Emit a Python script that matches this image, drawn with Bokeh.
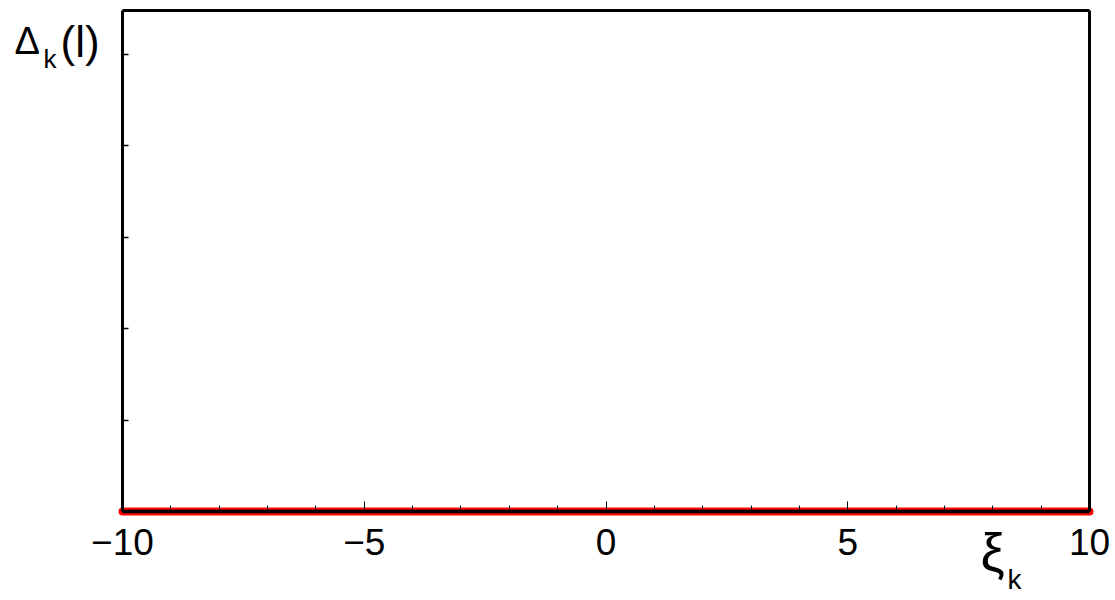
from bokeh.plotting import figure
from bokeh.models import Range1d, LinearAxis, FixedTicker, Label
from bokeh.embed import file_html
from bokeh.resources import INLINE

# ---- data ----
xi_k = [-10, -5, 0, 5, 10]
delta_k = [0, 0, 0, 0, 0]

x_ticks = [-10, -5, 0, 5, 10]
x_tick_labels = ["\u221210", "\u22125", "0", "5", "10"]
x_minor_ticks = [-9, -8, -7, -6, -4, -3, -2, -1, 1, 2, 3, 4, 6, 7, 8, 9]
y_ticks = [1, 2, 3, 4, 5]

X_MIN, X_MAX = -10, 10
Y_MIN, Y_MAX = 0, 5.48

FONT = "Liberation Sans"

# page-pixel geometry of the plot box
W, H = 1115, 600
PX_LEFT, PX_RIGHT = 122, 1089     # x = -10 .. 10
PY_ZERO, PY_PER_UNIT = 511, 91.4  # y = 0 and pixels per y unit
PX_PER_UNIT = (PX_RIGHT - PX_LEFT) / (X_MAX - X_MIN)

x0 = X_MIN - PX_LEFT / PX_PER_UNIT
x1 = X_MAX + (W - PX_RIGHT) / PX_PER_UNIT
y0 = -(H - PY_ZERO) / PY_PER_UNIT
y1 = PY_ZERO / PY_PER_UNIT

p = figure(
    x_range=Range1d(x0, x1),
    y_range=Range1d(y0, y1),
    frame_width=W, frame_height=H,
    min_border=0,
    output_backend="svg", toolbar_location=None,
    x_axis_location=None, y_axis_location=None,
)
p.grid.visible = False
p.outline_line_color = None
p.background_fill_color = "white"
p.border_fill_color = "white"

# red data line
p.line(xi_k, delta_k, line_color="#ff0000", line_width=8, line_cap="round")

def base_axis(ax, lw):
    ax.axis_line_color = "black"
    ax.axis_line_width = lw
    ax.major_tick_line_color = "black"
    ax.minor_tick_line_color = "black"
    ax.major_tick_out = 0
    ax.minor_tick_out = 0
    ax.axis_label = None
    return ax

# bottom axis at y = 0
bx = LinearAxis(fixed_location=0, bounds=(X_MIN, X_MAX),
                ticker=FixedTicker(ticks=x_ticks, minor_ticks=x_minor_ticks))
base_axis(bx, 3.5)
bx.major_tick_in = 10
bx.minor_tick_in = 6
bx.major_tick_line_width = 1
bx.minor_tick_line_width = 1
bx.major_label_overrides = {t: s for t, s in zip(x_ticks, x_tick_labels)}
bx.major_label_text_font = FONT
bx.major_label_text_font_size = "37px"
bx.major_label_text_color = "black"
bx.major_label_standoff = 17
p.add_layout(bx, "below")

# left axis at x = -10
lx = LinearAxis(fixed_location=X_MIN, bounds=(Y_MIN, Y_MAX),
                ticker=FixedTicker(ticks=y_ticks, minor_ticks=[]))
base_axis(lx, 3)
lx.major_tick_in = 6
lx.major_tick_line_width = 1.5
lx.minor_tick_in = 0
lx.major_label_overrides = {t: "" for t in y_ticks}
lx.major_label_standoff = 0
p.add_layout(lx, "left")

# right edge at x = 10
rx = LinearAxis(fixed_location=X_MAX, bounds=(Y_MIN, Y_MAX),
                ticker=FixedTicker(ticks=[], minor_ticks=[]))
base_axis(rx, 3)
rx.major_tick_in = 0
rx.minor_tick_in = 0
rx.major_label_standoff = 0
p.add_layout(rx, "right")

# top edge
tx = LinearAxis(fixed_location=Y_MAX, bounds=(X_MIN, X_MAX),
                ticker=FixedTicker(ticks=[], minor_ticks=[]))
base_axis(tx, 3)
tx.major_tick_in = 0
tx.minor_tick_in = 0
tx.major_label_standoff = 0
p.add_layout(tx, "above")

# helpers: page pixel -> data coordinates (for text placement only)
def dx(px):
    return X_MIN + (px - PX_LEFT) / PX_PER_UNIT

def dy(py):
    return (PY_ZERO - py) / PY_PER_UNIT

def lab(text, px, py, size):
    p.add_layout(Label(x=dx(px), y=dy(py), text=text, text_font=FONT,
                       text_font_size=f"{size}px", text_color="black",
                       text_align="left", text_baseline="alphabetic"))

lab("\u0394", 14, 40, 38)
lab("k", 43, 58, 26)
lab("(l)", 60, 41, 44)
lab("\u03be", 980, 551, 54)
lab("k", 1007, 579, 28)

open("out.html", "w").write(file_html(p, INLINE))
